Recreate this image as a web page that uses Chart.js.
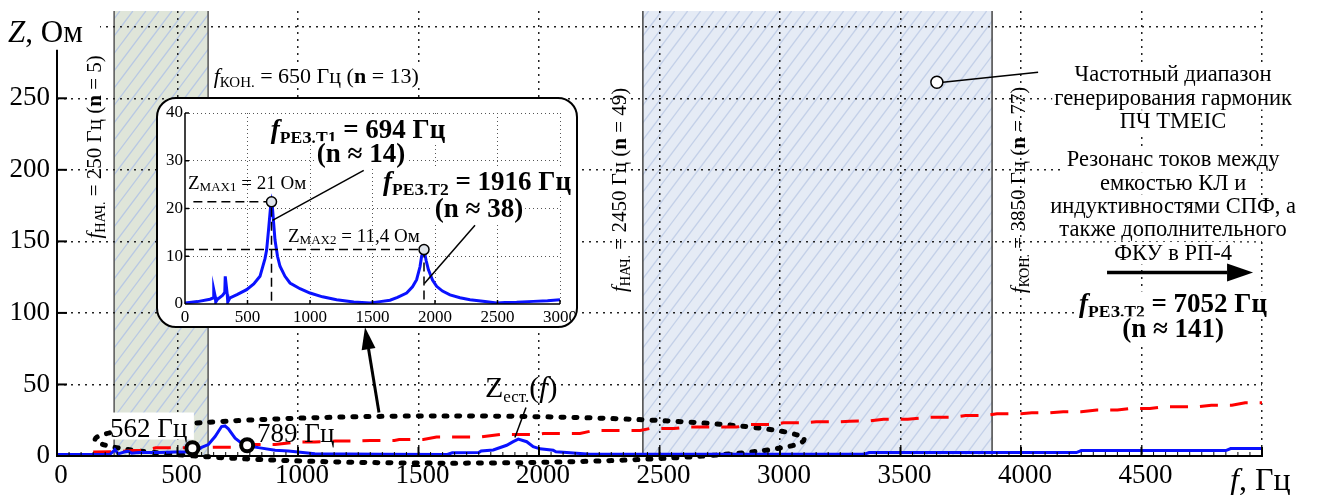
<!DOCTYPE html>
<html lang="ru">
<head>
<meta charset="utf-8">
<title>Z(f)</title>
<script src="https://cdn.jsdelivr.net/npm/chart.js@4.4.1/dist/chart.umd.min.js"></script>
<style>
  body { margin: 0; background: #fff; }
  #main_box { position: relative; width: 1317px; height: 495px; }
  #grafica_z { position: absolute; left: 0; top: 0; }
  #inset_box { position: absolute; left: 156px; top: 97px; width: 418px; height: 227px;
    border: 2px solid #000; border-radius: 20px; background: #fff; overflow: hidden; }
  #grafica_inset { display: block; }
</style>
</head>
<body>
<div id="main_box">
  <canvas id="grafica_z" width="1317" height="495"></canvas>
  <div id="inset_box"><canvas id="grafica_inset" width="418" height="227"></canvas></div>
</div>
<script>
const FONT = '"Liberation Serif", "Times New Roman", serif';

// Z(f), main plot (blue)
const fBlue = [0, 100, 220, 232, 240, 254, 282, 296, 310, 337, 420, 490, 573, 600, 628, 656, 683, 697, 711, 739, 766, 794, 849, 905, 960, 1070, 1340, 1620, 1640, 1750, 1760, 1810, 1866, 1893, 1914, 1949, 1976, 2004, 2059, 2070, 2115, 2198, 2210, 3350, 3370, 4230, 4250, 4850, 4870, 5000];
const zBlue = [1, 1, 1.2, 3, 4.5, 1.5, 3, 3.3, 2, 2.5, 2.5, 2.8, 3, 6, 8, 13.6, 20.6, 21, 19, 12.5, 9, 7, 5.5, 4, 3.5, 1.5, 1.2, 1.1, 2.2, 2.4, 3.5, 4.2, 7.5, 10, 11.8, 10, 6.5, 5, 4, 3, 2.5, 1.4, 1.2, 1.3, 2.4, 2.4, 3.8, 3.8, 5.2, 5.2];

// red dashed curve
const fRed = [150, 240, 320, 365, 410, 490, 690, 750, 820, 905, 990, 1070, 1155, 1240, 1300, 1400, 1420, 1520, 1575, 1755, 1840, 1990, 2020, 2170, 2225, 2420, 2460, 2560, 2610, 2820, 2875, 2960, 3015, 3100, 3150, 3240, 3290, 3370, 3430, 3530, 3620, 3720, 3770, 3850, 3900, 4000, 4045, 4120, 4175, 4250, 4315, 4400, 4450, 4535, 4590, 4735, 4790, 4875, 4930, 5000];
const zRed = [2.8, 2.9, 3.9, 3.9, 5.7, 5.7, 6.2, 6.2, 8, 8, 9.7, 9.7, 10.4, 10.4, 10.8, 10.8, 11.5, 11.5, 13.2, 13.2, 15, 15, 15.7, 15.7, 17.8, 17.8, 19.2, 19.2, 20.2, 20.2, 22, 22, 23.2, 23.2, 23.9, 23.9, 24.3, 24.5, 25.7, 25.7, 27.1, 27.1, 28.3, 28.3, 29.5, 29.5, 30.2, 30.2, 30.9, 30.9, 32.1, 32.1, 33.2, 33.2, 34.4, 34.4, 35.5, 35.5, 37.2, 37.2];

// Z(f), inset 0..3000 Hz
const fInset = [0, 100, 200, 228, 230, 242, 246, 260, 300, 318, 322, 338, 342, 360, 420, 493, 550, 600, 640, 653, 670, 685, 692, 700, 720, 740, 760, 800, 840, 920, 1000, 1100, 1213, 1350, 1480, 1560, 1640, 1700, 1773, 1820, 1853, 1880, 1893, 1912, 1930, 1947, 1980, 2013, 2060, 2120, 2200, 2280, 2400, 2493, 2560, 2653, 2787, 2900, 3000];
const zInset = [0.2, 0.5, 1.0, 1.3, 3.0, 1.5, 0.4, 1.0, 1.8, 2.4, 5.8, 2.0, 0.4, 1.3, 2.0, 3.0, 4.2, 5.8, 9.5, 11.3, 16, 20.5, 21.4, 20, 13.4, 10, 7.9, 5.8, 4.4, 3.2, 2.3, 1.5, 0.9, 0.4, 0.2, 0.5, 0.8, 1.4, 2.3, 3.6, 5.1, 7.8, 10, 11.3, 9, 7.2, 5, 3.7, 2.7, 1.9, 1.3, 0.9, 0.5, 0.2, 0.3, 0.35, 0.55, 0.7, 0.9];

// axes
const xMax = 5000, xStep = 500, yMax = 311, yStep = 50;
const insetXMax = 3000, insetXStep = 500, insetYMax = 40, insetYStep = 10;

// marked points (562 Hz, 789 Hz) and resonances in the inset
const markFreq = [562, 789];
const markZ = [5.5, 7.5];
const resFreq = [692, 1912];
const resZ = [21.4, 11.4];

// shaded frequency bands
const bandStart = [237, 2431];
const bandEnd = [627, 3880];

document.addEventListener("DOMContentLoaded", () => {
	//Main chart
	GraficaZ();
	//Inset chart
	GraficaInset();
});

function pts(fs, zs) {
	return fs.map((f, i) => ({ x: f, y: zs[i] }));
}

/*Text helpers*/
function seg(t, size, style, dy) {
	return { t: t, size: size, style: style || '', dy: dy || 0 };
}
function richWidth(ctx, parts) {
	let w = 0;
	parts.forEach(p => { ctx.font = `${p.style} ${p.size}px ${FONT}`; w += ctx.measureText(p.t).width; });
	return w;
}
function drawRich(ctx, parts, x, y, align, bg) {
	const w = richWidth(ctx, parts);
	let cx = align === 'center' ? x - w / 2 : x;
	ctx.textAlign = 'left';
	ctx.textBaseline = 'alphabetic';
	if (bg) {
		const s = parts[0].size;
		ctx.fillStyle = '#fff';
		ctx.fillRect(cx - 2, y - s * 0.78, w + 4, s * 1.0);
	}
	ctx.fillStyle = '#000';
	parts.forEach(p => {
		ctx.font = `${p.style} ${p.size}px ${FONT}`;
		ctx.fillText(p.t, cx, y + p.dy);
		cx += ctx.measureText(p.t).width;
	});
}
function freqLabel(sub, value, n, size) {
	return [seg('f', size, 'italic'), seg(sub, size * 0.68, '', size * 0.2),
		seg(' = ' + value + ' Гц (', size), seg('n', size, 'bold'), seg(' = ' + n + ')', size)];
}
function resLabel(sub, value, size) {
	return [seg('f', size, 'italic bold'), seg(sub, size * 0.65, 'bold', size * 0.18),
		seg(' = ' + value + ' Гц', size, 'bold')];
}
function arrow(ctx, x0, y0, x1, y1, len, half, width) {
	const ang = Math.atan2(y1 - y0, x1 - x0);
	const bx = x1 - len * Math.cos(ang), by = y1 - len * Math.sin(ang);
	ctx.lineWidth = width;
	ctx.beginPath(); ctx.moveTo(x0, y0); ctx.lineTo(bx, by); ctx.stroke();
	ctx.beginPath();
	ctx.moveTo(x1, y1);
	ctx.lineTo(bx + half * Math.sin(ang), by - half * Math.cos(ang));
	ctx.lineTo(bx - half * Math.sin(ang), by + half * Math.cos(ang));
	ctx.closePath(); ctx.fill();
}
function seglLine(ctx, x0, y0, x1, y1) {
	ctx.beginPath(); ctx.moveTo(x0, y0); ctx.lineTo(x1, y1); ctx.stroke();
}
// keep the plot area exactly where the layout padding puts it
function noEdgePad(s) {
	s.paddingTop = 0; s.paddingBottom = 0; s.paddingLeft = 0; s.paddingRight = 0;
}

/*Main decorations*/
const mainDecor = {
	id: 'mainDecor',
	beforeDraw(chart) {
		const ctx = chart.ctx, a = chart.chartArea, xs = chart.scales.x;
		const styles = [
			{ fill: '#dfe5d9', line: '#b8c8e3', edge: '#555' },
			{ fill: '#e5ebf5', line: '#c3d0e8', edge: '#444' }
		];
		bandStart.forEach((f0, i) => {
			const x0 = xs.getPixelForValue(f0), x1 = xs.getPixelForValue(bandEnd[i]);
			const st = styles[i];
			ctx.save();
			ctx.fillStyle = st.fill;
			ctx.fillRect(x0, a.top, x1 - x0, a.bottom - a.top);
			ctx.beginPath(); ctx.rect(x0, a.top, x1 - x0, a.bottom - a.top); ctx.clip();
			ctx.strokeStyle = st.line; ctx.lineWidth = 1.3;
			const h = a.bottom - a.top;
			for (let s = x0 - h; s < x1 + 20; s += 13) seglLine(ctx, s, a.bottom, s + h * 0.75, a.top);
			ctx.restore();
			ctx.save();
			ctx.strokeStyle = st.edge; ctx.lineWidth = 1.5;
			seglLine(ctx, x0, a.top, x0, a.bottom);
			seglLine(ctx, x1, a.top, x1, a.bottom);
			ctx.restore();
		});
	},
	beforeDatasetsDraw(chart) {
		const ctx = chart.ctx, xs = chart.scales.x, ys = chart.scales.y;
		// dotted ring round the low-frequency part
		const cf = 1629, cz = 11.5, rf = 1471, rz = 16.5;
		ctx.save();
		ctx.strokeStyle = '#000'; ctx.lineWidth = 5; ctx.lineCap = 'round';
		ctx.setLineDash([3, 10]);
		ctx.beginPath();
		ctx.ellipse(xs.getPixelForValue(cf), ys.getPixelForValue(cz),
			xs.getPixelForValue(cf + rf) - xs.getPixelForValue(cf),
			ys.getPixelForValue(cz) - ys.getPixelForValue(cz + rz), 0, 0, Math.PI * 2);
		ctx.stroke();
		ctx.restore();
		// 562 Hz label on white box
		ctx.save();
		ctx.fillStyle = '#fff';
		const bx0 = xs.getPixelForValue(228), bx1 = xs.getPixelForValue(568);
		const by0 = ys.getPixelForValue(30.4), by1 = ys.getPixelForValue(11.5);
		ctx.fillRect(bx0, by0, bx1 - bx0, by1 - by0);
		drawRich(ctx, [seg(markFreq[0] + ' Гц', 27)], xs.getPixelForValue(220), ys.getPixelForValue(13.6), 'left');
		ctx.restore();
	},
	afterDatasetsDraw(chart) {
		const ctx = chart.ctx, a = chart.chartArea, xs = chart.scales.x, ys = chart.scales.y;
		ctx.save();
		ctx.strokeStyle = '#000';
		ctx.lineWidth = 1;
		for (let f = 50; f < xMax; f += 50) {
			const x = xs.getPixelForValue(f);
			seglLine(ctx, x, a.bottom, x, a.bottom - 4);
		}
		ctx.lineWidth = 2;
		for (let f = xStep; f <= xMax; f += xStep) {
			const x = xs.getPixelForValue(f);
			seglLine(ctx, x, a.bottom, x, a.bottom - 9);
		}
		for (let z = yStep; z <= 250; z += yStep) {
			const y = ys.getPixelForValue(z);
			seglLine(ctx, a.left, y, a.left + 10, y);
		}
		seglLine(ctx, a.left - 1, a.bottom, a.right + 1, a.bottom);
		seglLine(ctx, a.left, a.bottom, a.left, ys.getPixelForValue(284));
		ctx.restore();
	},
	afterDraw(chart) {
		const ctx = chart.ctx, xs = chart.scales.x, ys = chart.scales.y;
		const X = f => xs.getPixelForValue(f), Y = z => ys.getPixelForValue(z);
		ctx.save();
		// axis titles
		ctx.fillStyle = '#fff'; ctx.fillRect(0, 12, 100, 36);
		drawRich(ctx, [seg('Z', 31, 'italic'), seg(', Ом', 31)], 8, 42, 'left');
		drawRich(ctx, [seg('f', 32, 'italic'), seg(', Гц', 32)], 1230, 490, 'left');

		// band limits
		drawRich(ctx, freqLabel('КОН.', 650, 13, 22), X(650), Y(261), 'left', true);
		[[183, 216, 'НАЧ.', 250, 5], [2361, 186, 'НАЧ.', 2450, 49], [4017, 186, 'КОН.', 3850, 77]].forEach(r => {
			ctx.save();
			ctx.translate(X(r[0]), Y(r[1]));
			ctx.rotate(-Math.PI / 2);
			drawRich(ctx, freqLabel(r[2], r[3], r[4], 21), 0, 0, 'center');
			ctx.restore();
		});

		// point labels
		drawRich(ctx, [seg(markFreq[1] + ' Гц', 27)], X(830), Y(10.1), 'left');
		drawRich(ctx, [seg('Z', 30), seg('ест.', 17, '', 5), seg('(', 30), seg('f', 30, 'italic'), seg(')', 30)], X(1776), Y(40.9), 'left');
		ctx.strokeStyle = '#000'; ctx.fillStyle = '#000';
		ctx.lineWidth = 1.5;
		seglLine(ctx, X(1900), Y(12.9), X(1946), Y(33.9));
		arrow(ctx, X(1336), Y(30.4), X(1278), Y(89.9), 22, 7, 3);

		// right text block
		const cx = X(4631);
		const block1 = ['Частотный диапазон', 'генерирования гармоник', 'ПЧ TMEIC'];
		const block2 = ['Резонанс токов между', 'емкостью КЛ и', 'индуктивностями СПФ, а', 'также дополнительного', 'ФКУ в РП-4'];
		block1.forEach((t, i) => drawRich(ctx, [seg(t, 22.5)], cx, Y(261.9) + i * 23.3, 'center', true));
		block2.forEach((t, i) => drawRich(ctx, [seg(t, 22.5)], cx, Y(202.4) + i * 23.3, 'center', true));
		ctx.fillStyle = '#000';
		arrow(ctx, X(4357), Y(128.3), X(4963), Y(128.3), 26, 9, 3.5);
		drawRich(ctx, resLabel('РЕЗ.Т2', 7052, 27), cx, Y(100.3), 'center', true);
		drawRich(ctx, [seg('(n ≈ 141)', 27, 'bold')], cx, Y(82.9), 'center', true);

		// pointer to the generation band
		ctx.strokeStyle = '#000'; ctx.lineWidth = 1.5;
		const px0 = X(3651), py0 = Y(261.2);
		seglLine(ctx, px0 + 6, py0, X(4071), Y(268.2));
		ctx.fillStyle = '#fff';
		ctx.beginPath(); ctx.arc(px0, py0, 6, 0, Math.PI * 2); ctx.fill(); ctx.stroke();
		ctx.restore();
	}
};

//Main chart
function GraficaZ() {
	const canvas = document.getElementById('grafica_z').getContext('2d');
	const gridColor = c => (c.tick && c.tick.value === 0) ? 'rgba(0,0,0,0)' : '#222';

	new Chart(canvas, {
		type: 'line',
		data: {
			datasets: [
				{
					label: 'points',
					data: pts(markFreq, markZ),
					showLine: false,
					pointRadius: 6,
					pointBorderWidth: 4,
					pointBackgroundColor: '#fff',
					pointBorderColor: '#000'
				},
				{
					label: 'Zest',
					data: pts(fBlue, zBlue),
					borderColor: '#0a12ff',
					borderWidth: 3,
					pointRadius: 0,
					tension: 0
				},
				{
					label: 'red',
					data: pts(fRed, zRed),
					borderColor: '#ff0000',
					borderWidth: 3,
					borderDash: [18, 12],
					pointRadius: 0,
					tension: 0
				}
			]
		},
		options: {
			responsive: false,
			animation: false,
			layout: { padding: { left: 0, right: 55, top: 11, bottom: 0 } },
			plugins: { legend: { display: false }, tooltip: { enabled: false } },
			scales: {
				x: {
					type: 'linear', min: 0, max: xMax,
					ticks: {
						stepSize: xStep, includeBounds: false, autoSkip: false, maxRotation: 0,
						padding: 4, labelOffset: 4, color: '#000', font: { family: FONT, size: 27 },
						callback: v => v === xMax ? '' : v
					},
					grid: { color: gridColor, lineWidth: 1.5, drawTicks: false },
					border: { display: false, dash: [2, 5] },
					afterFit: s => { s.height = 39; noEdgePad(s); }
				},
				y: {
					type: 'linear', min: 0, max: yMax,
					ticks: {
						stepSize: yStep, includeBounds: false,
						padding: 7, color: '#000', font: { family: FONT, size: 27 },
						callback: v => v === 300 ? '' : v
					},
					grid: { color: gridColor, lineWidth: 1.5, drawTicks: false },
					border: { display: false, dash: [2, 5] },
					afterFit: s => { s.width = 57; noEdgePad(s); }
				}
			}
		},
		plugins: [mainDecor]
	});
}

/*Inset decorations*/
const insetDecor = {
	id: 'insetDecor',
	afterDatasetsDraw(chart) {
		const ctx = chart.ctx, a = chart.chartArea, xs = chart.scales.x, ys = chart.scales.y;
		ctx.save();
		ctx.strokeStyle = '#000'; ctx.lineWidth = 1.5;
		for (let f = insetXStep; f <= insetXMax; f += insetXStep) {
			const x = xs.getPixelForValue(f);
			seglLine(ctx, x, a.bottom, x, a.bottom - 4);
		}
		for (let z = insetYStep; z <= insetYMax; z += insetYStep) {
			const y = ys.getPixelForValue(z);
			seglLine(ctx, a.left, y, a.left + 4, y);
		}
		seglLine(ctx, a.left, a.bottom, a.right, a.bottom);
		seglLine(ctx, a.left, a.bottom, a.left, a.top);
		ctx.restore();
	},
	afterDraw(chart) {
		const ctx = chart.ctx, xs = chart.scales.x, ys = chart.scales.y;
		const X = f => xs.getPixelForValue(f), Y = z => ys.getPixelForValue(z);
		ctx.save();
		drawRich(ctx, resLabel('РЕЗ.Т1', 694, 27), X(1384), Y(34.8), 'center', true);
		drawRich(ctx, [seg('(n ≈ 14)', 27, 'bold')], X(1408), Y(29.7), 'center', true);
		drawRich(ctx, resLabel('РЕЗ.Т2', 1916, 27), X(2336), Y(23.9), 'center', true);
		drawRich(ctx, [seg('(n ≈ 38)', 27, 'bold')], X(2352), Y(18.2), 'center', true);
		drawRich(ctx, [seg('Z', 19), seg('MAX1', 13, '', 2), seg(' = 21 Ом', 19)], X(24), Y(24.1), 'left');
		drawRich(ctx, [seg('Z', 19), seg('MAX2', 13, '', 2), seg(' = 11,4 Ом', 19)], X(824), Y(13), 'left');
		ctx.restore();
	}
};

//Inset chart
function GraficaInset() {
	const canvas = document.getElementById('grafica_inset').getContext('2d');
	const gridColor = c => (c.tick && c.tick.value === 0) ? 'rgba(0,0,0,0)' : '#555';
	const lineSet = (data, dash) => ({
		data: data, borderColor: '#000', borderWidth: 1.5, borderDash: dash,
		pointRadius: 0, tension: 0
	});

	new Chart(canvas, {
		type: 'line',
		data: {
			datasets: [
				{
					data: pts(resFreq, resZ),
					showLine: false,
					pointRadius: 5,
					pointBorderWidth: 1.5,
					pointBackgroundColor: '#dfe4ea',
					pointBorderColor: '#000'
				},
				lineSet([{ x: 67, y: resZ[0] }, { x: resFreq[0], y: resZ[0] }, { x: resFreq[0], y: 0 }], [9, 5]),
				lineSet([{ x: 0, y: resZ[1] }, { x: resFreq[1], y: resZ[1] }, { x: resFreq[1], y: 0 }], [9, 5]),
				lineSet([{ x: 700, y: 17.5 }, { x: 1430, y: 28 }], []),
				lineSet([{ x: 1915, y: 4.3 }, { x: 2320, y: 16.5 }], []),
				{
					data: pts(fInset, zInset),
					borderColor: '#0a12ff',
					borderWidth: 3,
					pointRadius: 0,
					tension: 0
				}
			]
		},
		options: {
			responsive: false,
			animation: false,
			layout: { padding: { left: 0, right: 16, top: 14, bottom: 0 } },
			plugins: { legend: { display: false }, tooltip: { enabled: false } },
			scales: {
				x: {
					type: 'linear', min: 0, max: insetXMax,
					ticks: {
						stepSize: insetXStep, includeBounds: false, autoSkip: false, maxRotation: 0,
						padding: 3, color: '#000', font: { family: FONT, size: 17 },
						callback: v => v
					},
					grid: { color: gridColor, lineWidth: 1, drawTicks: false },
					border: { display: false, dash: [1, 3] },
					afterFit: s => { s.height = 22; noEdgePad(s); }
				},
				y: {
					type: 'linear', min: 0, max: insetYMax,
					ticks: {
						stepSize: insetYStep, includeBounds: false,
						padding: 2, color: '#000', font: { family: FONT, size: 17 },
						callback: v => v
					},
					grid: { color: gridColor, lineWidth: 1, drawTicks: false },
					border: { display: false, dash: [1, 3] },
					afterFit: s => { s.width = 27; noEdgePad(s); }
				}
			}
		},
		plugins: [insetDecor]
	});
}
</script>
</body>
</html>
